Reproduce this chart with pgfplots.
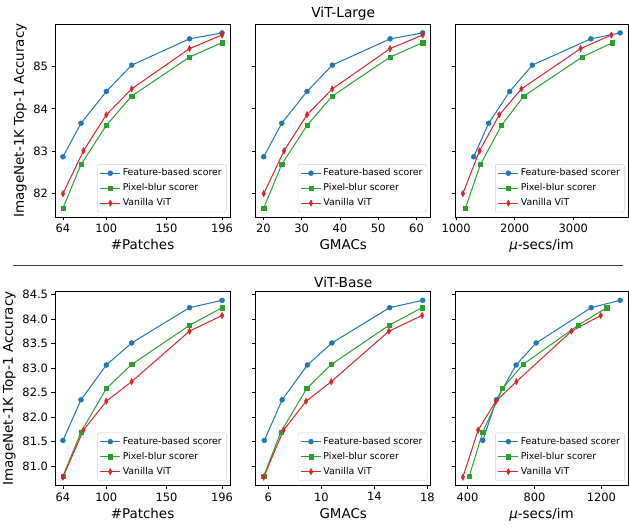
\documentclass[border=0pt]{standalone}
\usepackage{fontspec}
\setmainfont{DejaVu Sans}
\usepackage{pgfplots}
\pgfplotsset{compat=1.18}
\usepackage{pgfplotstable}

\definecolor{tabblue}{HTML}{1F77B4}
\definecolor{tabgreen}{HTML}{2CA02C}
\definecolor{tabred}{HTML}{D62728}

% ViT-Large: #patches, GMACs, mu-secs/im, accuracy
\pgfplotstableread{
pfb ppb pvv gfb gpb gvv ufb upb uvv afb apb avv
64  64  64  20.1 20.1 20.1 1300 1160 1115 82.87 81.66 82.00
79  79  81  24.8 24.8 25.4 1556 1415 1400 83.66 82.69 83.01
100 100 100 31.4 31.4 31.4 1915 1775 1737 84.41 83.61 83.86
121 121 121 38.0 38.0 38.0 2300 2155 2115 85.03 84.30 84.47
169 169 169 53.1 53.1 53.1 3300 3150 3125 85.65 85.22 85.42
196 196 196 61.6 61.6 61.6 3800 3670 3650 85.79 85.56 85.74
}\large

% ViT-Base
\pgfplotstableread{
pfb ppb pvv gfb gpb gvv ufb upb uvv afb apb avv
64  64  64  5.70  5.65  5.65  491  410  372  81.52 80.79 80.77
79  79  81  7.05  6.95  7.15  573  491  463  82.35 81.69 81.73
100 100 100 8.95  8.90  8.85  690  609  569  83.06 82.58 82.32
121 121 121 10.80 10.75 10.75 810  731  692  83.51 83.07 82.72
169 169 169 15.15 15.10 15.10 1139 1060 1021 84.23 83.87 83.75
196 196 196 17.65 17.60 17.60 1312 1232 1196 84.38 84.23 84.07
}\base

\pgfplotsset{
  panel/.style={
    scale only axis, width=175bp, height=193bp, anchor=south west,
    axis line style={line width=0.8bp},
    tick align=outside, xtick pos=bottom, ytick pos=left,
    major tick length=3.5bp, tick style={line width=0.8bp, black},
    scaled ticks=false,
    /pgf/number format/assume math mode=true,
    /pgf/number format/1000 sep={},
    ticklabel style={font=\fontsize{11.5}{13}\selectfont},
    label style={font=\fontsize{13.5}{16}\selectfont},
    title style={font=\fontsize{13.8}{16}\selectfont, yshift=-6bp},
    legend image code/.code={
      \draw[mark repeat=2, mark phase=2, #1] plot coordinates {(0bp,0bp) (10bp,0bp) (20bp,0bp)};},
    legend style={at={(0.98,0.025)}, anchor=south east,
      font=\fontsize{9.4}{11}\selectfont, draw=black!20, rounded corners=2bp,
      fill=white, inner sep=2.5bp, row sep=2.4bp, legend cell align=left},
  },
  fb/.style={tabblue, line width=1bp, mark=*, mark size=2.5bp, mark options={solid, line width=0.4bp}},
  pb/.style={tabgreen, line width=1bp, mark=square*, mark size=2.1bp, mark options={solid, line width=0.4bp}},
  vv/.style={tabred, line width=1bp, mark=diamond*, mark size=3.2bp, mark options={solid, line width=0.4bp, xscale=0.75}},
  topy/.style={ymin=81.45, ymax=86.0, ytick={82,83,84,85}},
  boty/.style={ymin=80.60, ymax=84.56, ytick={81,81.5,...,84.5},
    yticklabel style={/pgf/number format/.cd, fixed, fixed zerofill, precision=1}},
}

\begin{document}
\begin{tikzpicture}[x=1bp,y=1bp]

% ---------------- ViT-Large ----------------
\begin{axis}[panel, topy, at={(55bp,310bp)},
  xmin=57.4, xmax=202.6, xtick={64,100,150,196},
  xlabel={\#Patches}, ylabel={ImageNet-1K Top-1 Accuracy}]
  \addplot[fb] table[x=pfb, y=afb] {\large};
  \addplot[pb] table[x=ppb, y=apb] {\large};
  \addplot[vv] table[x=pvv, y=avv] {\large};
  \legend{Feature-based scorer, Pixel-blur scorer, Vanilla ViT}
\end{axis}

\begin{axis}[panel, topy, at={(255.7bp,310bp)}, yticklabels={},
  xmin=18.0, xmax=63.7, xtick={20,30,40,50,60},
  xlabel={GMACs}, title={ViT-Large}]
  \addplot[fb] table[x=gfb, y=afb] {\large};
  \addplot[pb] table[x=gpb, y=apb] {\large};
  \addplot[vv] table[x=gvv, y=avv] {\large};
  \legend{Feature-based scorer, Pixel-blur scorer, Vanilla ViT}
\end{axis}

\begin{axis}[panel, topy, at={(455bp,310bp)}, width=173bp, yticklabels={},
  xmin=981, xmax=3934, xtick={1000,2000,3000},
  xlabel={{\itshape μ}-secs/im}]
  \addplot[fb] table[x=ufb, y=afb] {\large};
  \addplot[pb] table[x=upb, y=apb] {\large};
  \addplot[vv] table[x=uvv, y=avv] {\large};
  \legend{Feature-based scorer, Pixel-blur scorer, Vanilla ViT}
\end{axis}

\draw[line width=0.9bp, black!75] (13bp,261.3bp) -- (623bp,261.3bp);

% ---------------- ViT-Base ----------------
\begin{axis}[panel, boty, at={(55bp,41.5bp)}, height=194bp,
  xmin=57.4, xmax=202.6, xtick={64,100,150,196},
  xlabel={\#Patches}, ylabel={ImageNet-1K Top-1 Accuracy}]
  \addplot[fb] table[x=pfb, y=afb] {\base};
  \addplot[pb] table[x=ppb, y=apb] {\base};
  \addplot[vv] table[x=pvv, y=avv] {\base};
  \legend{Feature-based scorer, Pixel-blur scorer, Vanilla ViT}
\end{axis}

\begin{axis}[panel, boty, at={(255.7bp,41.5bp)}, height=194bp, yticklabels={},
  xmin=5.05, xmax=18.25, xtick={6,10,14,18},
  xlabel={GMACs}, title={ViT-Base}]
  \addplot[fb] table[x=gfb, y=afb] {\base};
  \addplot[pb] table[x=gpb, y=apb] {\base};
  \addplot[vv] table[x=gvv, y=avv] {\base};
  \legend{Feature-based scorer, Pixel-blur scorer, Vanilla ViT}
\end{axis}

\begin{axis}[panel, boty, at={(455bp,41.5bp)}, width=173bp, height=194bp, yticklabels={},
  xmin=325, xmax=1359, xtick={400,800,1200},
  xlabel={{\itshape μ}-secs/im}]
  \addplot[fb] table[x=ufb, y=afb] {\base};
  \addplot[pb] table[x=upb, y=apb] {\base};
  \addplot[vv] table[x=uvv, y=avv] {\base};
  \legend{Feature-based scorer, Pixel-blur scorer, Vanilla ViT}
\end{axis}

\pgfresetboundingbox
\useasboundingbox (0bp,0bp) rectangle (629bp,527bp);
\end{tikzpicture}
\end{document}
